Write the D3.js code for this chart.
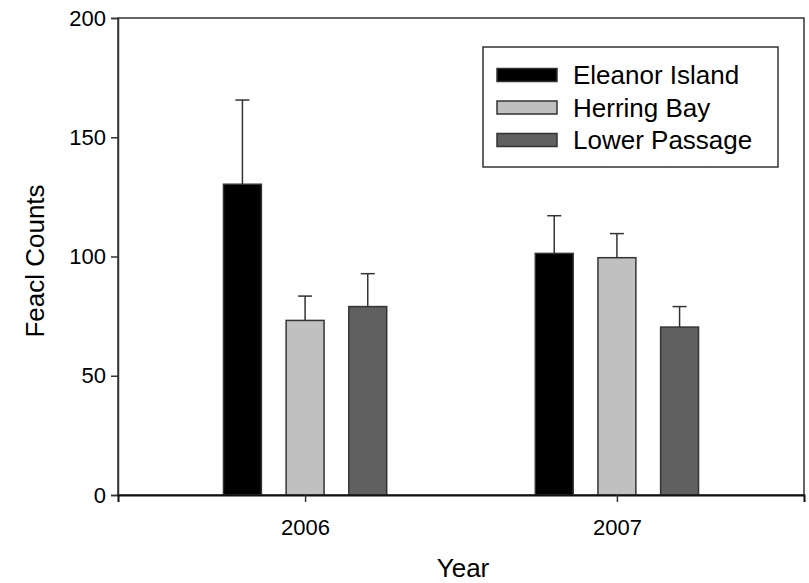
<!DOCTYPE html>
<html><head><meta charset="utf-8">
<script src="https://cdn.jsdelivr.net/npm/d3@7"></script>
<style>body{margin:0;background:#fff}svg{display:block}text{font-family:Arial,"Liberation Sans",sans-serif;fill:#000}</style>
</head><body>
<svg id="c" width="809" height="583"></svg>
<script>
const years = ["2006", "2007"];
const series = ["Eleanor Island", "Herring Bay", "Lower Passage"];
const colors = ["#000000", "#c0c0c0", "#606060"];
const means = [[130.3, 73.2, 79.0], [101.3, 99.5, 70.4]];
const errors = [[35.3, 10.2, 13.8], [15.8, 10.1, 8.6]];
const yTicks = [0, 50, 100, 150, 200];

const svg = d3.select("#c");
const L = 118, R = 804, T = 18, B = 495;
const y = d3.scaleLinear().domain([0, 200]).range([B, T]);
const x = d3.scalePoint().domain(years).range([L, R]).padding(0.6);
const xs = d3.scaleBand().domain(series).range([-94, 94]).paddingInner(0.395).paddingOuter(0.1975);

// frame
svg.append("rect").attr("x", L).attr("y", T).attr("width", R - L).attr("height", B - T)
  .attr("fill", "none").attr("stroke", "#333").attr("stroke-width", 1.5);

const g = svg.append("g");
years.forEach((yr, i) => {
  series.forEach((s, j) => {
    const cx = x(yr) + xs(s);
    const w = xs.bandwidth();
    const v = means[i][j], e = errors[i][j];
    const mid = cx + w / 2;
    g.append("line").attr("x1", mid).attr("x2", mid).attr("y1", y(v)).attr("y2", y(v + e))
      .attr("stroke", "#333").attr("stroke-width", 1.5);
    g.append("line").attr("x1", mid - 7).attr("x2", mid + 7).attr("y1", y(v + e)).attr("y2", y(v + e))
      .attr("stroke", "#333").attr("stroke-width", 1.5);
    g.append("rect").attr("x", cx).attr("y", y(v)).attr("width", w).attr("height", y(0) - y(v))
      .attr("fill", colors[j]).attr("stroke", "#333").attr("stroke-width", 1.5);
  });
});

// axes
const ya = svg.append("g").attr("transform", `translate(${L},0)`)
  .call(d3.axisLeft(y).tickValues(yTicks).tickSize(7).tickPadding(5).tickFormat(d3.format("d")));
ya.select(".domain").attr("stroke", "#333").attr("stroke-width", 1.5);
ya.selectAll(".tick line").attr("stroke", "#333").attr("stroke-width", 1.5);
ya.selectAll("text").attr("font-size", "22px").attr("font-family", "Arial, 'Liberation Sans', sans-serif");

const xa = svg.append("g").attr("transform", `translate(0,${B})`)
  .call(d3.axisBottom(x).tickSize(7).tickPadding(17));
xa.select(".domain").attr("stroke", "#111").attr("stroke-width", 2);
xa.selectAll(".tick line").attr("stroke", "#333").attr("stroke-width", 1.5);
xa.selectAll("text").attr("font-size", "22px").attr("font-family", "Arial, 'Liberation Sans', sans-serif");

svg.append("text").attr("x", (L + R) / 2 + 2).attr("y", 577).attr("text-anchor", "middle")
  .attr("font-size", "26px").text("Year");
svg.append("text").attr("transform", "translate(44,261) rotate(-90)").attr("text-anchor", "middle")
  .attr("font-size", "26px").text("Feacl Counts");

// legend
const lg = svg.append("g");
lg.append("rect").attr("x", 483).attr("y", 47).attr("width", 295).attr("height", 120)
  .attr("fill", "#fff").attr("stroke", "#333").attr("stroke-width", 1.5);
series.forEach((s, j) => {
  const cy = 75 + j * 32.5;
  lg.append("rect").attr("x", 497).attr("y", cy - 6.5).attr("width", 60).attr("height", 13)
    .attr("fill", colors[j]).attr("stroke", "#333").attr("stroke-width", 1.5);
  lg.append("text").attr("x", 573).attr("y", cy).attr("dy", "0.35em").attr("font-size", "26px").text(s);
});
</script>
</body></html>
